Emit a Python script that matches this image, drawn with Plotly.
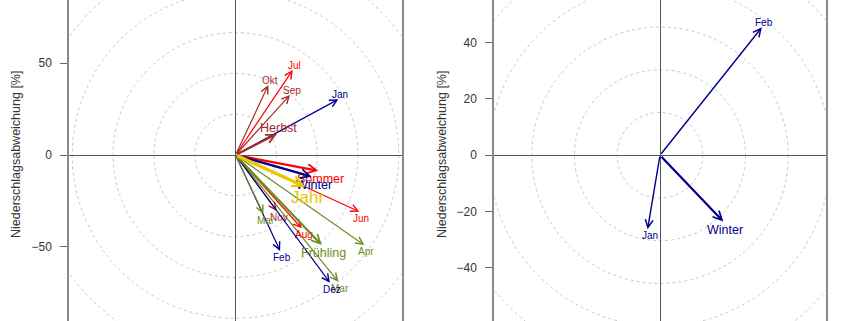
import plotly.graph_objects as go

# ---------------- data ----------------
# left panel: monthly and seasonal vectors
left_names = ["Jan", "Feb", "Mar", "Apr", "Mai", "Jun", "Jul", "Aug", "Sep", "Okt", "Nov", "Dez"]
left_x = [56.1, 24.3, 56.1, 70.2, 15.2, 67.5, 31.2, 36.1, 29.7, 17.9, 22.5, 51.5]
left_y = [30.4, -52.3, -69.1, -49.1, -32.2, -30.9, 46.3, -40.0, 32.7, 38.2, -30.5, -69.6]
left_group = ["Winter", "Winter", "Frühling", "Frühling", "Frühling", "Sommer", "Sommer", "Sommer",
              "Herbst", "Herbst", "Herbst", "Winter"]

season_names = ["Frühling", "Sommer", "Herbst", "Winter", "Jahr"]
season_x = [47.0, 45.1, 22.5, 41.5, 37.9]
season_y = [-49.1, -8.6, 11.5, -11.8, -17.3]

# right panel
right_names = ["Jan", "Feb"]
right_x = [-4.4, 36.2]
right_y = [-26.3, 45.5]
right_group = ["Winter", "Winter"]
right_season_names = ["Winter"]
right_season_x = [22.5]
right_season_y = [-23.6]

left_yticks = [-50, 0, 50]
right_yticks = [-40, -20, 0, 20, 40]
left_circles = [22.25, 44.5, 66.75, 89.0, 111.25]
right_circles = [15.2, 30.4, 45.6, 60.8, 76.0]

# ---------------- styling ----------------
colors = {"Winter": "#00008B", "Frühling": "#6B8E23", "Sommer": "#FF0000",
          "Herbst": "#A52A2A", "Jahr": "#EEC600"}
FONT = "Liberation Sans, Arial, sans-serif"
W, H = 845, 321

fig = go.Figure()
# invisible traces to create both subplots
fig.add_trace(go.Scatter(x=[0], y=[0], mode="markers", marker=dict(opacity=0),
                         xaxis="x", yaxis="y", showlegend=False, hoverinfo="skip"))
fig.add_trace(go.Scatter(x=[0], y=[0], mode="markers", marker=dict(opacity=0),
                         xaxis="x2", yaxis="y2", showlegend=False, hoverinfo="skip"))

shapes = []
for r in left_circles:
    shapes.append(dict(type="circle", xref="x", yref="y", x0=-r, x1=r, y0=-r, y1=r,
                       line=dict(color="#c8c8c8", width=1, dash="3px,3px"), layer="below"))
for r in right_circles:
    shapes.append(dict(type="circle", xref="x2", yref="y2", x0=-r, x1=r, y0=-r, y1=r,
                       line=dict(color="#c8c8c8", width=1, dash="3px,3px"), layer="below"))

annotations = []


def add_vec(xr, yr, name, x, y, color, width, asize, fsize):
    annotations.append(dict(xref=xr, yref=yr, axref=xr, ayref=yr, x=x, y=y, ax=0, ay=0,
                            text="", showarrow=True, arrowhead=5, arrowsize=asize,
                            arrowwidth=width, arrowcolor=color, standoff=0, startstandoff=0))
    annotations.append(dict(xref=xr, yref=yr, x=x, y=y, text=name, showarrow=False,
                            xanchor="center", yanchor="bottom" if y > 0 else "top",
                            xshift=2, yshift=-3 if y > 0 else 1,
                            font=dict(family=FONT, size=fsize, color=color)))


for n, x, y, g in zip(left_names, left_x, left_y, left_group):
    add_vec("x", "y", n, x, y, colors[g], 1.2, 1.2, 10)
for n, x, y in zip(season_names, season_x, season_y):
    if n == "Jahr":
        add_vec("x", "y", n, x, y, colors[n], 3.5, 0.6, 17)
    else:
        add_vec("x", "y", n, x, y, colors[n], 2.2, 0.8, 12.5)

for n, x, y, g in zip(right_names, right_x, right_y, right_group):
    add_vec("x2", "y2", n, x, y, colors[g], 1.4, 1.1, 10)
for n, x, y in zip(right_season_names, right_season_x, right_season_y):
    add_vec("x2", "y2", n, x, y, colors[n], 2.2, 0.8, 12.5)

# y-axis titles
for xp in (16, 442):
    annotations.append(dict(xref="paper", yref="paper", x=xp / W, y=1 - 155 / H,
                            text="Niederschlagsabweichung [%]", textangle=-90, showarrow=False,
                            xanchor="center", yanchor="middle",
                            font=dict(family=FONT, size=12.5, color="#333333")))

common_x = dict(showgrid=False, showticklabels=False, ticks="", showline=False,
                zeroline=True, zerolinecolor="#555555", zerolinewidth=1, fixedrange=True)
common_y = dict(showgrid=False, showline=True, mirror=True, linecolor="#8a8a8a", linewidth=1.5,
                ticks="outside", ticklen=7, tickcolor="#666666", tickwidth=1,
                tickfont=dict(family=FONT, size=12, color="#333333"), ticklabelstandoff=6,
                zeroline=True, zerolinecolor="#555555", zerolinewidth=1, fixedrange=True)

fig.update_layout(
    width=W, height=H, margin=dict(l=0, r=0, t=0, b=0),
    paper_bgcolor="white", plot_bgcolor="white", showlegend=False,
    xaxis=dict(domain=[69 / W, 401.7 / W], range=[-90.8, 90.6], anchor="y", **common_x),
    yaxis=dict(domain=[0, 1], range=[-90.5, 84.5], anchor="x", tickvals=left_yticks, **common_y),
    xaxis2=dict(domain=[494 / W, 826 / W], range=[-59.0, 59.0], anchor="y2", **common_x),
    yaxis2=dict(domain=[0, 1], range=[-58.95, 55.2], anchor="x2", tickvals=right_yticks, **common_y),
    shapes=shapes, annotations=annotations,
)

fig.write_html("out.html")
